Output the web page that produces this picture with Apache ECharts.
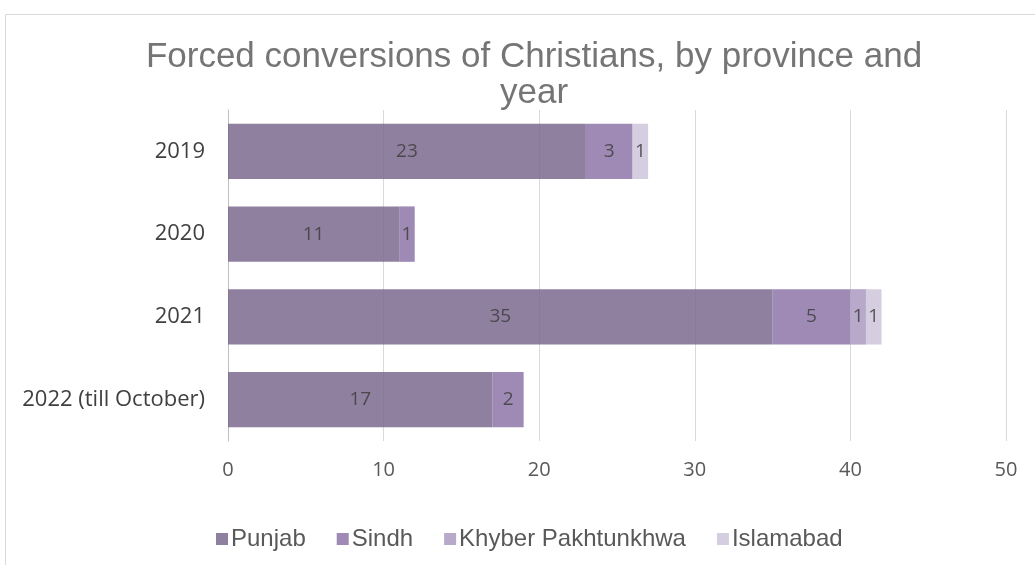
<!DOCTYPE html>
<html>
<head>
<meta charset="utf-8">
<script src="https://cdn.jsdelivr.net/npm/echarts@6/dist/echarts.min.js"></script>
<style>
  html, body { margin: 0; padding: 0; background: #fff; }
  #chart { width: 1035px; height: 565px; }
</style>
</head>
<body>
<div id="chart"></div>
<script>
var years = ['2019', '2020', '2021', '2022 (till October)'];
var provinces = ['Punjab', 'Sindh', 'Khyber Pakhtunkhwa', 'Islamabad'];
var punjab = [23, 11, 35, 17];
var sindh = [3, 1, 5, 2];
var kpk = [0, 0, 1, 0];
var islamabad = [1, 0, 1, 0];
var xTicks = [0, 10, 20, 30, 40, 50];

var colors = ['#7b6a8f', '#8d75a7', '#ab9ac2', '#cec4da'];
var values = [punjab, sindh, kpk, islamabad];

var series = provinces.map(function(name, i) {
    return {
        name: name,
        type: 'bar',
        stack: 'total',
        barWidth: '67%',
        data: values[i].map(function(v) { return v === 0 ? null : v; }),
        itemStyle: { color: colors[i], opacity: 0.85 },
        label: {
            show: true,
            position: 'inside',
            color: '#404040',
            fontFamily: 'Open Sans',
            fontSize: 19
        }
    };
});

var option = {
    animation: false,
    graphic: [{
        type: 'rect',
        shape: { x: 5.5, y: 14.5, width: 1100, height: 600 },
        style: { fill: 'none', stroke: '#d9d9d9', lineWidth: 1 },
        silent: true
    }],
    title: {
        text: 'Forced conversions of Christians, by province and\nyear',
        left: 529,
        textAlign: 'center',
        top: 34,
        textStyle: {
            fontFamily: 'Liberation Sans',
            fontWeight: 'normal',
            fontSize: 35,
            lineHeight: 36,
            color: '#757575'
        }
    },
    legend: {
        bottom: 9,
        left: 211,
        itemWidth: 12,
        itemHeight: 12,
        itemGap: 31,
        icon: 'rect',
        textStyle: {
            fontFamily: 'Liberation Sans',
            fontSize: 24,
            color: '#595959',
            padding: [0, 0, 0, -2]
        },
        data: provinces
    },
    grid: { left: 228, right: 29, top: 110, height: 331 },
    xAxis: {
        type: 'value',
        min: 0,
        max: xTicks[xTicks.length - 1],
        interval: 10,
        axisLine: { show: false },
        axisTick: { show: false },
        splitLine: { lineStyle: { color: '#d9d9d9' } },
        axisLabel: {
            color: '#595959',
            fontFamily: 'Open Sans',
            fontSize: 20,
            margin: 19
        }
    },
    yAxis: {
        type: 'category',
        inverse: true,
        data: years,
        axisLine: { lineStyle: { color: '#bfbfbf' } },
        axisTick: { show: false },
        axisLabel: {
            color: '#404040',
            fontFamily: 'Open Sans',
            fontSize: 22,
            margin: 23
        }
    },
    series: series
};

var myChart = echarts.init(document.getElementById('chart'));
myChart.setOption(option);
</script>
</body>
</html>
